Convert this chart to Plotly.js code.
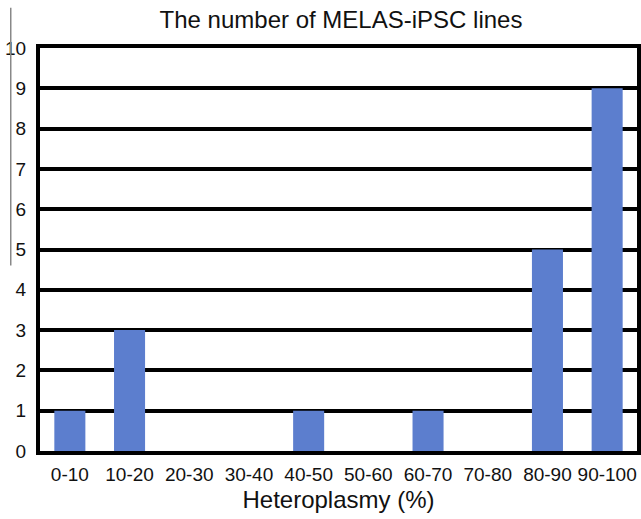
<!DOCTYPE html>
<html>
<head>
<meta charset="utf-8">
<script src="https://cdn.plot.ly/plotly-3.0.1.min.js"></script>
<style>html,body{margin:0;padding:0;background:#fff;}#chart{width:641px;height:519px;}</style>
</head>
<body>
<div id="chart"></div>
<script>
const categories = ["0-10","10-20","20-30","30-40","40-50","50-60","60-70","70-80","80-90","90-100"];
const lineCounts = [1,3,0,0,1,0,1,0,5,9];
const yTickValues = [0,1,2,3,4,5,6,7,8,9,10];
const chartTitle = "The number of MELAS-iPSC lines";
const xTitle = "Heteroplasmy (%)";

const trace = {
  type: "bar",
  x: categories,
  y: lineCounts,
  marker: {color: "rgb(92,126,206)", line: {color: "rgba(70,100,180,0.6)", width: 0}},
  hoverinfo: "x+y"
};

const layout = {
  width: 641, height: 519,
  margin: {l: 40, r: 4, t: 48, b: 68},
  paper_bgcolor: "#fff", plot_bgcolor: "#fff",
  font: {family: "Liberation Sans, Arial, sans-serif", color: "#111"},
  bargap: 0.48,
  showlegend: false,
  title: {text: chartTitle, font: {size: 24, color: "#111"}, x: 0.532, xanchor: "center", y: 0.962, yanchor: "middle"},
  xaxis: {
    type: "category",
    showline: true, linecolor: "#000", linewidth: 4, mirror: true,
    showgrid: false, ticks: "outside", ticklen: 3, tickcolor: "rgba(0,0,0,0)",
    tickfont: {size: 19, color: "#111"},
    title: {text: xTitle, font: {size: 24, color: "#111"}, standoff: 8}
  },
  yaxis: {
    range: [0, 10], tickvals: yTickValues, ticktext: yTickValues.map(String),
    showgrid: true, gridcolor: "#000", gridwidth: 4,
    showline: true, linecolor: "#000", linewidth: 4, mirror: true,
    zeroline: false, ticks: "outside", ticklen: 6, tickcolor: "rgba(0,0,0,0)",
    tickfont: {size: 19, color: "#111"}
  },
  shapes: [
    {type: "line", xref: "paper", yref: "paper", x0: -0.049, x1: -0.049, y0: 0.46, y1: 1.1, line: {color: "#888", width: 1.5}}
  ]
};

Plotly.newPlot("chart", [trace], layout, {displayModeBar: false, staticPlot: true});
</script>
</body>
</html>
